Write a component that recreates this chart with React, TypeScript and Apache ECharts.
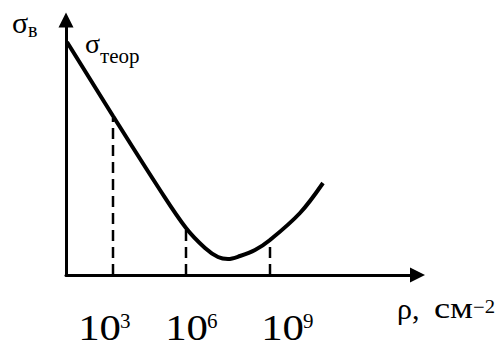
import React, { useEffect, useRef } from "react";
import * as echarts from "echarts";

// Curve (schematic units: x along ρ axis, y along σ axis)
const curveX = [1, 47, 94, 120, 139, 152, 162, 174, 189, 204, 234, 257];
const curveY = [233, 159, 85, 47, 27, 18, 16, 19, 25, 35, 62, 92];

// Dashed drop lines
const dropX = [47, 120, 204];
const dropTop = [157, 47, 35];

// Tick labels under the axis
const tickBase = ["10", "10", "10"];
const tickExp = ["3", "6", "9"];
const tickPos = [39.5, 126.5, 222.5];

const FONT = "Liberation Serif, DejaVu Serif, serif";

export default function App() {
  const ref = useRef<HTMLDivElement>(null);
  useEffect(() => {
    if (!ref.current) return;
    document.body.style.margin = "0";
    const chart = echarts.init(ref.current, null, { renderer: "svg" });
    const series: any[] = [
      {
        type: "line",
        data: curveX.map((x, i) => [x, curveY[i]]),
        smooth: 0.35,
        symbol: "none",
        lineStyle: { color: "#000", width: 4 },
        z: 5,
      },
      ...dropX.map((x, i) => ({
        type: "line",
        data: [
          [x, 0],
          [x, dropTop[i]],
        ],
        symbol: "none",
        lineStyle: { color: "#000", width: 2.5, type: [11, 6] },
        z: 3,
      })),
    ];
    chart.setOption({
      animation: false,
      grid: { left: 66, right: 84.5, top: 20, bottom: 72, containLabel: false },
      xAxis: {
        type: "value",
        min: 0,
        max: 351.5,
        axisLine: {
          show: true,
          onZero: false,
          symbol: ["none", "triangle"],
          symbolSize: [15, 15],
          lineStyle: { color: "#000", width: 3 },
        },
        axisTick: { show: false },
        axisLabel: { show: false },
        splitLine: { show: false },
      },
      yAxis: {
        type: "value",
        min: 0,
        max: 255,
        axisLine: {
          show: true,
          onZero: false,
          symbol: ["none", "triangle"],
          symbolSize: [15, 15],
          lineStyle: { color: "#000", width: 3 },
        },
        axisTick: { show: false },
        axisLabel: { show: false },
        splitLine: { show: false },
      },
      series,
    });

    const txt = (
      text: string,
      x: number,
      y: number,
      size: number,
      scaleX = 1,
      lineHeight?: number
    ) => ({
      type: "text",
      x,
      y,
      scaleX,
      style: {
        text,
        fill: "#000",
        fontFamily: FONT,
        fontSize: size,
        lineHeight: lineHeight ?? size,
        align: "left",
        verticalAlign: "middle",
      },
    });
    const graphics: any[] = [];
    tickPos.forEach((p, i) => {
      const c = chart.convertToPixel({ gridIndex: 0 }, [p, 0]) as number[];
      graphics.push(txt(tickBase[i], c[0] - 27.3, 328, 36, 1.19, 26));
      graphics.push(txt(tickExp[i], c[0] + 14.5, 320.5, 21, 1, 18));
    });
    graphics.push(txt("σ", 12, 22, 30));
    graphics.push(txt("в", 28, 29.5, 20));
    graphics.push(txt("σ", 85, 43.5, 28));
    graphics.push(txt("теор", 100, 56, 21));
    graphics.push(txt("ρ,", 397, 308.5, 30));
    graphics.push(txt("см", 434, 308.5, 29, 1.25));
    graphics.push(txt("−2", 473, 307, 18, 1.15));
    chart.setOption({ graphic: graphics });

    return () => chart.dispose();
  }, []);
  return (
    <div
      ref={ref}
      style={{ position: "absolute", left: 0, top: 0, width: 502, height: 347 }}
    />
  );
}
